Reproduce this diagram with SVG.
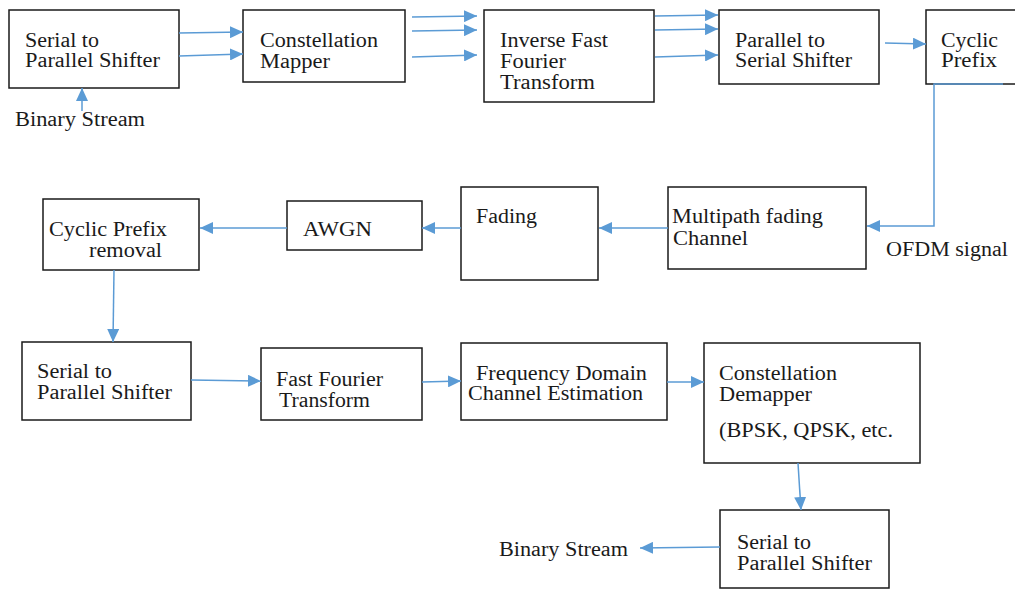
<svg xmlns="http://www.w3.org/2000/svg" width="1015" height="589" viewBox="0 0 1015 589">
<style>
  rect.box { fill: #ffffff; stroke: #1a1a1a; stroke-width: 1.5; }
  text { font-family: "Liberation Serif", "Times New Roman", serif; font-size: 20px; fill: #1a1a1a; }
  .conn path, .conn line { stroke: #5b9bd5; stroke-width: 1.5; fill: none; }
</style>
<defs>
  <marker id="ah" markerUnits="userSpaceOnUse" markerWidth="14" markerHeight="12" refX="13" refY="6" orient="auto">
    <path d="M0,0 L13,6 L0,12 Z" fill="#5b9bd5"/>
  </marker>
</defs>
<rect width="1015" height="589" fill="#ffffff"/>

<g id="n-sp1">
  <rect class="box" x="9" y="10" width="170" height="78"/>
  <text x="25" y="47" textLength="74" lengthAdjust="spacingAndGlyphs">Serial to</text>
  <text x="25" y="67" textLength="135" lengthAdjust="spacingAndGlyphs">Parallel Shifter</text>
</g>
<g id="n-binary-in">
  <text x="15" y="126" textLength="130" lengthAdjust="spacingAndGlyphs">Binary Stream</text>
</g>
<g id="n-mapper">
  <rect class="box" x="243" y="10" width="162" height="72"/>
  <text x="260" y="47" textLength="118" lengthAdjust="spacingAndGlyphs">Constellation</text>
  <text x="260" y="68" textLength="70" lengthAdjust="spacingAndGlyphs">Mapper</text>
</g>
<g id="n-ifft">
  <rect class="box" x="484" y="10" width="170" height="92"/>
  <text x="500" y="47" textLength="108" lengthAdjust="spacingAndGlyphs">Inverse Fast</text>
  <text x="500" y="68" textLength="66" lengthAdjust="spacingAndGlyphs">Fourier</text>
  <text x="500" y="89" textLength="95" lengthAdjust="spacingAndGlyphs">Transform</text>
</g>
<g id="n-ps">
  <rect class="box" x="719" y="10" width="160" height="74"/>
  <text x="735" y="47" textLength="90" lengthAdjust="spacingAndGlyphs">Parallel to</text>
  <text x="735" y="67" textLength="117" lengthAdjust="spacingAndGlyphs">Serial Shifter</text>
</g>
<g id="n-cp">
  <rect class="box" x="926" y="10" width="110" height="74"/>
  <text x="941" y="47" textLength="57" lengthAdjust="spacingAndGlyphs">Cyclic</text>
  <text x="941" y="67" textLength="56" lengthAdjust="spacingAndGlyphs">Prefix</text>
</g>
<g id="n-ofdm">
  <text x="886" y="256" textLength="122" lengthAdjust="spacingAndGlyphs">OFDM signal</text>
</g>
<g id="n-multipath">
  <rect class="box" x="668" y="187" width="198" height="82"/>
  <text x="672" y="223" textLength="151" lengthAdjust="spacingAndGlyphs">Multipath fading</text>
  <text x="673" y="245" textLength="75" lengthAdjust="spacingAndGlyphs">Channel</text>
</g>
<g id="n-fading">
  <rect class="box" x="461" y="187" width="137" height="93"/>
  <text x="476" y="223" textLength="61" lengthAdjust="spacingAndGlyphs">Fading</text>
</g>
<g id="n-awgn">
  <rect class="box" x="287" y="201" width="135" height="49"/>
  <text x="303" y="236" textLength="69" lengthAdjust="spacingAndGlyphs">AWGN</text>
</g>
<g id="n-cpr">
  <rect class="box" x="43" y="199" width="156" height="71"/>
  <text x="49" y="236" textLength="118" lengthAdjust="spacingAndGlyphs">Cyclic Prefix</text>
  <text x="89" y="257" textLength="73" lengthAdjust="spacingAndGlyphs">removal</text>
</g>
<g id="n-sp2">
  <rect class="box" x="22" y="342" width="169" height="78"/>
  <text x="37" y="378" textLength="75" lengthAdjust="spacingAndGlyphs">Serial to</text>
  <text x="37" y="399" textLength="135" lengthAdjust="spacingAndGlyphs">Parallel Shifter</text>
</g>
<g id="n-fft">
  <rect class="box" x="261" y="348" width="161" height="72"/>
  <text x="276" y="386" textLength="107" lengthAdjust="spacingAndGlyphs">Fast Fourier</text>
  <text x="279" y="407" textLength="91" lengthAdjust="spacingAndGlyphs">Transform</text>
</g>
<g id="n-fdce">
  <rect class="box" x="461" y="343" width="206" height="77"/>
  <text x="476" y="380" textLength="171" lengthAdjust="spacingAndGlyphs">Frequency Domain</text>
  <text x="468" y="400" textLength="175" lengthAdjust="spacingAndGlyphs">Channel Estimation</text>
</g>
<g id="n-demapper">
  <rect class="box" x="704" y="343" width="216" height="120"/>
  <text x="719" y="380" textLength="118" lengthAdjust="spacingAndGlyphs">Constellation</text>
  <text x="719" y="401" textLength="93" lengthAdjust="spacingAndGlyphs">Demapper</text>
  <text x="719" y="437" textLength="174" lengthAdjust="spacingAndGlyphs">(BPSK, QPSK, etc.</text>
</g>
<g id="n-sp3">
  <rect class="box" x="720" y="510" width="169" height="78"/>
  <text x="737" y="549" textLength="74" lengthAdjust="spacingAndGlyphs">Serial to</text>
  <text x="737" y="570" textLength="135" lengthAdjust="spacingAndGlyphs">Parallel Shifter</text>
</g>
<g id="n-binary-out">
  <text x="499" y="556" textLength="129" lengthAdjust="spacingAndGlyphs">Binary Stream</text>
</g>

<g id="connectors" class="conn">
  <path d="M82,111 L82,88" marker-end="url(#ah)"/>
  <path d="M179,33 L243,32" marker-end="url(#ah)"/>
  <path d="M179,56 L243,54" marker-end="url(#ah)"/>
  <path d="M412,17 L477,16" marker-end="url(#ah)"/>
  <path d="M412,31 L477,30" marker-end="url(#ah)"/>
  <path d="M412,57 L477,55" marker-end="url(#ah)"/>
  <path d="M655,16 L718,15" marker-end="url(#ah)"/>
  <path d="M655,30 L718,29" marker-end="url(#ah)"/>
  <path d="M655,57 L718,55" marker-end="url(#ah)"/>
  <path d="M885,43 L926,44" marker-end="url(#ah)"/>
  <path d="M1003,84 L934,84 L934,226 L867,226" marker-end="url(#ah)"/>
  <path d="M668,228 L599,228" marker-end="url(#ah)"/>
  <path d="M461,228 L422,228" marker-end="url(#ah)"/>
  <path d="M287,228 L200,228" marker-end="url(#ah)"/>
  <path d="M114,270 L113,342" marker-end="url(#ah)"/>
  <path d="M191,380 L261,381" marker-end="url(#ah)"/>
  <path d="M422,382 L461,381" marker-end="url(#ah)"/>
  <path d="M667,382 L704,382" marker-end="url(#ah)"/>
  <path d="M798,463 L801,510" marker-end="url(#ah)"/>
  <path d="M720,547 L640,548" marker-end="url(#ah)"/>
</g>
</svg>
